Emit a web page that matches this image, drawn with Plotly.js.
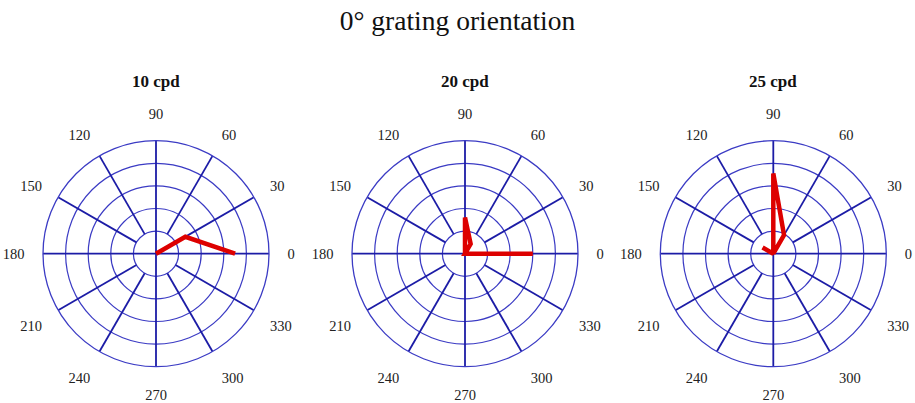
<!DOCTYPE html>
<html>
<head>
<meta charset="utf-8">
<script src="https://cdn.plot.ly/plotly-3.0.1.min.js"></script>
<style>
  html, body { margin: 0; padding: 0; background: #fff; }
  #chart { width: 915px; height: 403px; }
</style>
</head>
<body>
<div id="chart"></div>
<script>
// Response magnitude per stimulus direction (degrees), one panel per spatial frequency
const directions = [0, 30, 60, 90, 120, 150, 180, 210, 240, 270, 300, 330];
const panelTitles = ["10 cpd", "20 cpd", "25 cpd"];
const resp10cpd = [3.5, 1.5, 0, 0, 0, 0, 0, 0, 0, 0, 0, 0];
const resp20cpd = [3.0, 0, 0.5, 1.6, 0, 0, 0, 0, 0, 0, 0, 0];
const resp25cpd = [0, 0, 0.95, 3.55, 0, 0.55, 0, 0, 0, 0, 0, 0];
const responses = [resp10cpd, resp20cpd, resp25cpd];

// Grid layout
const radialTicks = [1, 2, 3, 4, 5];
const rMax = 5;
const spokeAngles = [30, 60, 120, 150, 210, 240, 300, 330];
const axisAngles = [0, 90];
const angleTicks = directions.slice();

const W = 915, H = 403;
const centers = [156, 465, 773.3];
const cy = 253.7, R = 113;

const spokeColor = "#1c1ca6";
const ringColor = "#3b3bc4";
const serif = "'Liberation Serif', 'Times New Roman', serif";

const traces = [];
const layout = {
  width: W, height: H,
  margin: {l: 0, r: 0, t: 0, b: 0},
  paper_bgcolor: "#fff",
  showlegend: false,
  title: {
    text: "0° grating orientation",
    font: {family: serif, size: 27.5, color: "#111"},
    x: 0.5, xanchor: "center", y: 1 - 20 / H, yanchor: "middle"
  },
  annotations: []
};

centers.forEach((cx, i) => {
  const key = i === 0 ? "polar" : "polar" + (i + 1);
  const sub = key;

  // spokes from the inner ring outward
  spokeAngles.forEach(a => {
    traces.push({
      type: "scatterpolar", subplot: sub, mode: "lines",
      r: [radialTicks[0], rMax], theta: [a, a],
      line: {color: spokeColor, width: 1.8},
      hoverinfo: "skip"
    });
  });
  // full diameters along 0-180 and 90-270
  axisAngles.forEach(a => {
    traces.push({
      type: "scatterpolar", subplot: sub, mode: "lines",
      r: [rMax, 0, rMax], theta: [a, a, a + 180],
      line: {color: spokeColor, width: 1.8},
      hoverinfo: "skip"
    });
  });
  // response curve
  traces.push({
    type: "scatterpolar", subplot: sub, mode: "lines",
    r: responses[i], theta: directions,
    line: {color: "#dd0000", width: 4.5, shape: "linear"},
    hoverinfo: "skip"
  });

  layout[key] = {
    domain: {
      x: [(cx - R) / W, (cx + R) / W],
      y: [(H - cy - R) / H, (H - cy + R) / H]
    },
    bgcolor: "rgba(0,0,0,0)",
    radialaxis: {
      range: [0, rMax],
      tickvals: radialTicks,
      showticklabels: false,
      ticks: "",
      showline: false,
      showgrid: true,
      gridcolor: ringColor,
      gridwidth: 1.2
    },
    angularaxis: {
      direction: "counterclockwise",
      rotation: 0,
      tickvals: angleTicks,
      ticktext: angleTicks.map(String),
      showgrid: false,
      showline: true,
      linecolor: ringColor,
      linewidth: 1.3,
      ticks: "outside",
      ticklen: 15,
      tickcolor: "rgba(0,0,0,0)",
      tickfont: {family: serif, size: 14.5, color: "#222"}
    }
  };

  layout.annotations.push({
    text: "<b>" + panelTitles[i] + "</b>",
    xref: "paper", yref: "paper",
    x: cx / W, y: 1 - 81 / H,
    xanchor: "center", yanchor: "middle",
    showarrow: false,
    font: {family: serif, size: 17, color: "#111"}
  });
});

Plotly.newPlot("chart", traces, layout, {staticPlot: true});
</script>
</body>
</html>
